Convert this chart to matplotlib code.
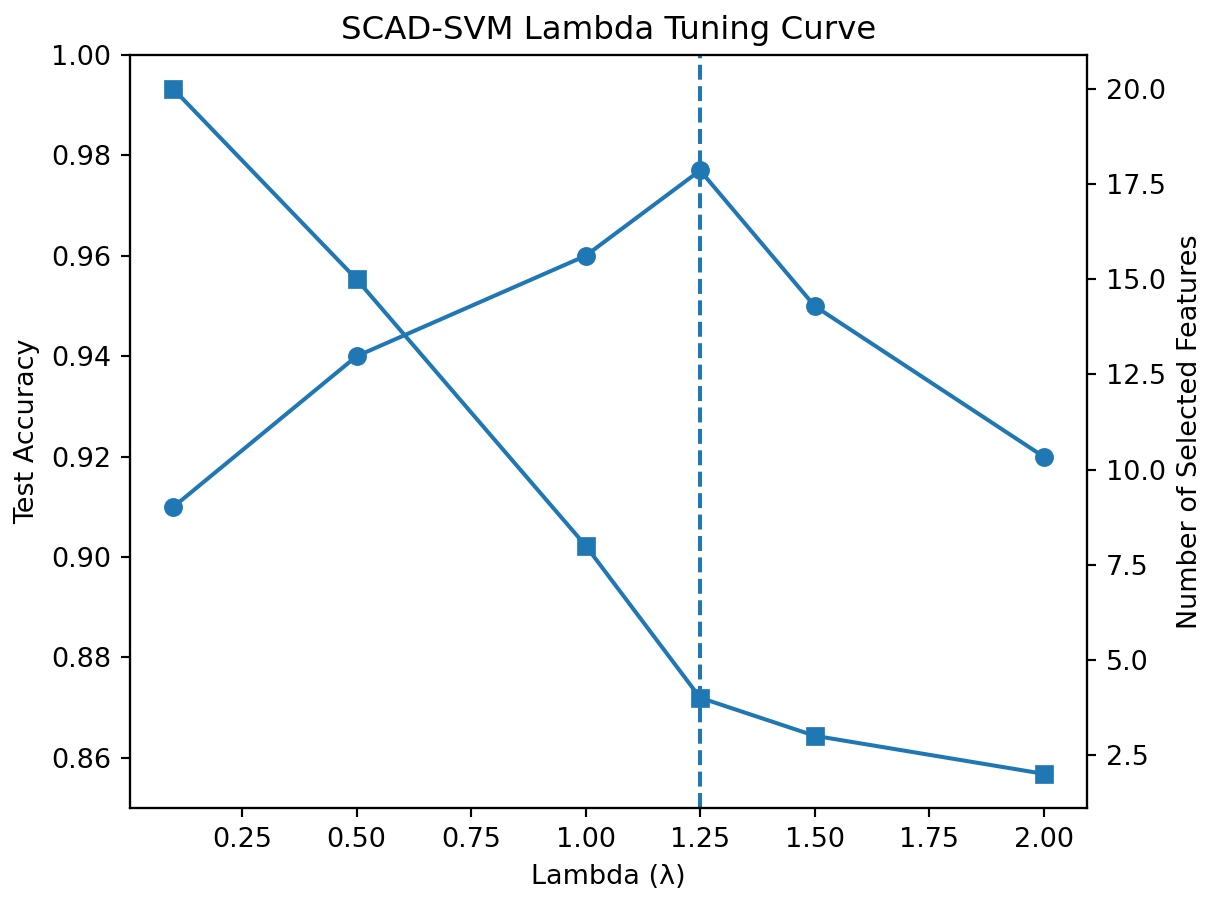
import matplotlib
matplotlib.use("Agg")
from matplotlib import pyplot as plt

# lambda grid and results
lambdas = [0.1, 0.5, 1.0, 1.25, 1.5, 2.0]
accuracy = [0.91, 0.94, 0.96, 0.977, 0.95, 0.92]
n_features = [20, 15, 8, 4, 3, 2]
best_lambda = 1.25

DPI = 194
fig, ax1 = plt.subplots(figsize=(1207 / DPI, 898 / DPI), dpi=DPI)
fig.subplots_adjust(left=0.1077, right=0.9006, top=0.9388, bottom=0.1002)

ax1.plot(lambdas, accuracy, marker="o", color="C0")
ax1.set_ylim(0.85, 1.00)
ax1.set_xlabel("Lambda (λ)")
ax1.set_ylabel("Test Accuracy")

ax2 = ax1.twinx()
ax2.plot(lambdas, n_features, marker="s", color="C0")
ax2.set_ylabel("Number of Selected Features")

ax1.axvline(best_lambda, linestyle="--", color="C0")
ax1.set_title("SCAD-SVM Lambda Tuning Curve")

fig.savefig("out.png", dpi=DPI)
